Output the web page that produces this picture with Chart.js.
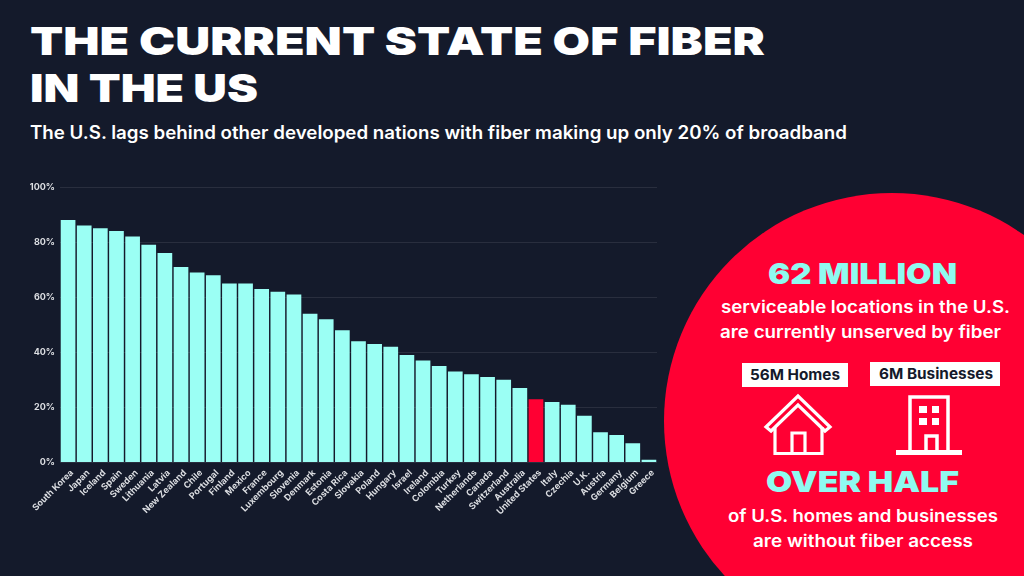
<!DOCTYPE html>
<html>
<head>
<meta charset="utf-8">
<title>The current state of fiber in the US</title>
<script src="https://cdn.jsdelivr.net/npm/chart.js@4"></script>
<style>
  html, body { margin: 0; width: 1024px; height: 576px; overflow: hidden; background: #141a2b; }
  #art { position: absolute; left: 0; top: 0; }
  #holder { position: absolute; left: 20px; top: 170px; width: 640px; height: 350px; }
  .head { font-family: Inter; font-weight: 900; fill: #fff; }
  .big { font-family: Inter; font-weight: 900; fill: #8ffaf0; }
  .body { font-family: Inter; font-weight: 600; fill: #fff; }
  .tag { font-family: Inter; font-weight: 700; fill: #141a2b; }
</style>
</head>
<body>
<svg id="art" width="1024" height="576" viewBox="0 0 1024 576">
  <circle cx="892" cy="421" r="228" fill="#ff0033"/>

  <text class="head" x="30" y="55" font-size="39" textLength="735" lengthAdjust="spacingAndGlyphs">THE CURRENT STATE OF FIBER</text>
  <text class="head" x="30" y="102" font-size="39" textLength="228" lengthAdjust="spacingAndGlyphs">IN THE US</text>
  <text class="body" x="30" y="139" font-size="18" textLength="817" lengthAdjust="spacingAndGlyphs">The U.S. lags behind other developed nations with fiber making up only 20% of broadband</text>

  <text class="big" x="768" y="284" font-size="29" textLength="189" lengthAdjust="spacingAndGlyphs">62 MILLION</text>
  <text class="body" x="721" y="313" font-size="17" textLength="289" lengthAdjust="spacingAndGlyphs">serviceable locations in the U.S.</text>
  <text class="body" x="720" y="338" font-size="17" textLength="281" lengthAdjust="spacingAndGlyphs">are currently unserved by fiber</text>

  <rect x="742" y="363" width="106" height="24" fill="#fff"/>
  <text class="tag" x="750" y="380" font-size="15" textLength="90" lengthAdjust="spacingAndGlyphs">56M Homes</text>
  <rect x="870" y="362" width="130" height="24" fill="#fff"/>
  <text class="tag" x="879" y="379" font-size="15" textLength="114" lengthAdjust="spacingAndGlyphs">6M Businesses</text>

  <!-- house -->
  <g fill="none" stroke="#fff" stroke-width="3.2">
    <path d="M766 427 L798 396 L830 427 L825 431 L798 405 L771 431 Z"/>
    <path d="M775 427 V453.5 H822 V427"/>
    <path d="M792 453.5 V433 H805 V453.5"/>
  </g>
  <!-- building -->
  <g fill="none" stroke="#fff" stroke-width="3.5">
    <path d="M910 451 V397 H948 V451"/>
    <path d="M926 451 V436 H937 V451"/>
  </g>
  <rect x="896" y="450" width="66" height="5" fill="#fff"/>
  <g fill="#fff">
    <rect x="919" y="406" width="8" height="7"/><rect x="932" y="406" width="7" height="7"/>
    <rect x="919" y="418" width="8" height="7"/><rect x="932" y="418" width="7" height="7"/>
  </g>

  <text class="big" x="766" y="492" font-size="29" textLength="193" lengthAdjust="spacingAndGlyphs">OVER HALF</text>
  <text class="body" x="728" y="522" font-size="17" textLength="270" lengthAdjust="spacingAndGlyphs">of U.S. homes and businesses</text>
  <text class="body" x="753" y="547" font-size="17" textLength="220" lengthAdjust="spacingAndGlyphs">are without fiber access</text>
</svg>
<div id="holder"><canvas id="myChart" width="640" height="350"></canvas></div>
<script>
const countries = ['South Korea', 'Japan', 'Iceland', 'Spain', 'Sweden', 'Lithuania', 'Latvia', 'New Zealand', 'Chile', 'Portugal', 'Finland', 'Mexico', 'France', 'Luxembourg', 'Slovenia', 'Denmark', 'Estonia', 'Costa Rica', 'Slovakia', 'Poland', 'Hungary', 'Israel', 'Ireland', 'Colombia', 'Turkey', 'Netherlands', 'Canada', 'Switzerland', 'Australia', 'United States', 'Italy', 'Czechia', 'U.K.', 'Austria', 'Germany', 'Belgium', 'Greece'];
const fiberShare = [88, 86, 85, 84, 82, 79, 76, 71, 69, 68, 65, 65, 63, 62, 61, 54, 52, 48, 44, 43, 42, 39, 37, 35, 33, 32, 31, 30, 27, 23, 22, 21, 17, 11, 10, 7, 1];
const yTicks = [0, 20, 40, 60, 80, 100];

const teal = '#9bfff4';
const red = '#ff0033';
const labelFont = { family: 'Inter', size: 9, weight: '700' };

const ctx = document.getElementById('myChart').getContext('2d');

const myChart = new Chart(ctx, {
  type: 'bar',
  data: {
    labels: countries,
    datasets: [{
      data: fiberShare,
      backgroundColor: countries.map(c => c === 'United States' ? red : teal),
      barPercentage: 1,
      categoryPercentage: 0.91
    }]
  },
  options: {
    responsive: false,
    animation: false,
    layout: { padding: { top: 17, right: 3, left: 0, bottom: 0 } },
    plugins: { legend: { display: false }, title: { display: false }, tooltip: { enabled: false } },
    scales: {
      x: {
        grid: { display: false },
        border: { display: false },
        afterFit: scale => { scale.height = 57.5; },
        ticks: { color: '#dcdee2', font: labelFont, autoSkip: false, maxRotation: 45, minRotation: 45, padding: -3, labelOffset: 4 }
      },
      y: {
        min: 0,
        max: 100,
        afterFit: scale => { scale.width = 40; },
        afterBuildTicks: scale => { scale.ticks = yTicks.map(v => ({ value: v })); },
        grid: { color: 'rgba(255,255,255,0.09)', drawTicks: false },
        border: { display: false },
        ticks: { color: '#dcdee2', font: labelFont, padding: 5, callback: v => v + '%' }
      }
    }
  }
});
</script>
</body>
</html>
